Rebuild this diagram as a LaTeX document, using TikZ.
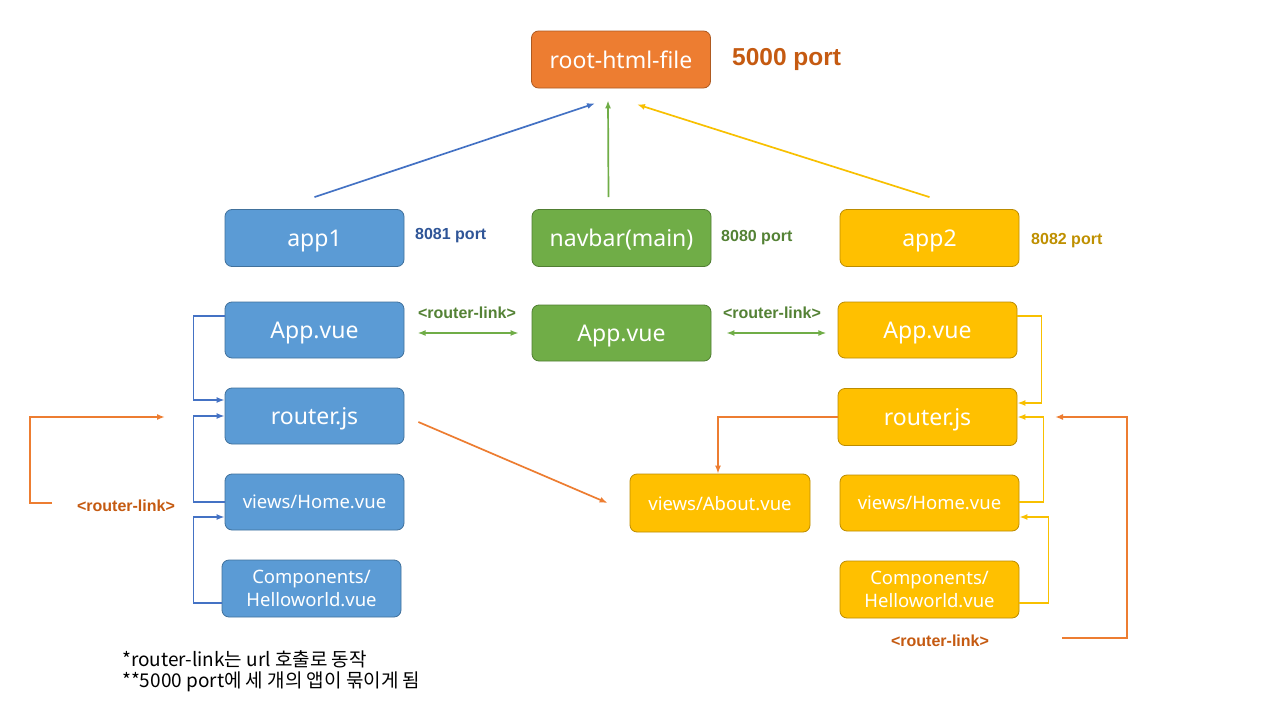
\documentclass[tikz,border=0pt]{standalone}
\usepackage{fontspec}
\setmainfont{Noto Sans}
\newfontfamily\krfont{Noto Sans CJK KR}
\newfontfamily\lblfont{Liberation Sans}
\usetikzlibrary{arrows.meta,calc}
\definecolor{bfill}{HTML}{5B9BD5}\definecolor{bdraw}{HTML}{41719C}
\definecolor{gfill}{HTML}{70AD47}\definecolor{gdraw}{HTML}{507E32}
\definecolor{yfill}{HTML}{FFC000}\definecolor{ydraw}{HTML}{BC8C00}
\definecolor{ofill}{HTML}{ED7D31}\definecolor{odraw}{HTML}{AE5A21}
\definecolor{bline}{HTML}{4472C4}\definecolor{yline}{HTML}{F8C000}
\definecolor{otext}{HTML}{C55A11}\definecolor{btext}{HTML}{2F5597}
\definecolor{gtext}{HTML}{548235}\definecolor{ytext}{HTML}{BF9000}
\begin{document}
\begin{tikzpicture}[x=1pt,y=-1pt,
  box/.style={rounded corners=7pt, draw, line width=0.8pt, minimum width=179pt,
    minimum height=57pt, text=white, inner sep=0pt, align=center, text depth=0pt,
    font=\fontsize{23}{27}\selectfont},
  smallbox/.style={box, font=\fontsize{18.5}{23.5}\selectfont},
  bluebox/.style={fill=bfill, draw=bdraw},
  greenbox/.style={fill=gfill, draw=gdraw},
  yellowbox/.style={fill=yfill, draw=ydraw},
  orangebox/.style={fill=ofill, draw=odraw},
  conn/.style={line width=1.7pt, -{Latex[length=8pt,width=6pt]}},
  portlbl/.style={font=\lblfont\bfseries\fontsize{16}{19}\selectfont, inner sep=0pt},
  rlink/.style={font=\lblfont\bfseries\fontsize{16}{19}\selectfont, inner sep=0pt},
  note/.style={font=\krfont\fontsize{19}{23}\selectfont, inner sep=0pt, anchor=west}
]
\useasboundingbox (0,0) rectangle (1280,720);
\fill[white] (0,0) rectangle (1280,720);

% nodes
\node[box,orangebox] (root) at (621,59.5) {root-html-file};
\node[box,bluebox] (app1) at (314.5,238) {app1};
\node[box,greenbox] (nav) at (621.5,238) {navbar(main)};
\node[box,yellowbox] (app2) at (929.5,238) {app2};

\node[box,bluebox,minimum height=56pt] (bapp) at (314.5,330) {App.vue};
\node[box,greenbox,minimum height=56pt] (gapp) at (621.5,333) {App.vue};
\node[box,yellowbox,minimum height=56pt] (yapp) at (927.5,330) {App.vue};

\node[box,bluebox,minimum height=56pt] (brouter) at (314.5,416) {router.js};
\node[box,yellowbox] (yrouter) at (927.5,417) {router.js};

\node[smallbox,bluebox,minimum height=56pt] (bhome) at (314.5,502) {views/Home.vue};
\node[smallbox,yellowbox,minimum height=56pt] (yhome) at (929.5,503) {views/Home.vue};
\node[smallbox,yellowbox,minimum width=180pt,minimum height=58pt] (about) at (720,503) {views/About.vue};

\node[smallbox,bluebox] (bcomp) at (311.5,588.5) {Components/\\Helloworld.vue};
\node[smallbox,yellowbox] (ycomp) at (929.5,589.5) {Components/\\Helloworld.vue};

% labels
\node[font=\lblfont\bfseries\fontsize{24.5}{28}\selectfont, text=otext, inner sep=0pt, anchor=west] (p5000) at (732,59.5) {5000 port};
\node[portlbl, text=btext, anchor=west] (p8081) at (415,236) {8081 port};
\node[portlbl, text=gtext, anchor=west] (p8080) at (721,238) {8080 port};
\node[portlbl, text=ytext, anchor=west] (p8082) at (1031,241) {8082 port};

\node[rlink, text=gtext] (rl1) at (467,313) {<router-link>};
\node[rlink, text=gtext] (rl2) at (772,313) {<router-link>};
\node[rlink, text=otext] (rl3) at (126,506) {<router-link>};
\node[rlink, text=otext] (rl4) at (940,641) {<router-link>};

\node[note] (n1) at (122,659) {*router-link는 url 호출로 동작};
\node[note] (n2) at (122,682) {**5000 port에 세 개의 앱이 묶이게 됨};

% top arrows
\draw[conn, bline] ($(app1.north)+(0,-12)$) -- ($(root.south)+(-26,15)$);
\draw[conn, gfill] ($(nav.north)+(-13,-12)$) -- ($(root.south)+(-13,12)$);
\draw[conn, yline] ($(app2.north)+(0,-12)$) -- ($(root.south)+(16,16)$);

% green double arrows
\draw[conn, gfill, {Latex[length=8pt,width=6pt]}-{Latex[length=8pt,width=6pt]}]
  ($(gapp.west)+(-114,0)$) -- ($(gapp.west)+(-13,0)$);
\draw[conn, gfill, {Latex[length=8pt,width=6pt]}-{Latex[length=8pt,width=6pt]}]
  ($(gapp.east)+(15,0)$) -- ($(gapp.east)+(115,0)$);

% blue brackets
\draw[conn, bline] (bapp.west |- 0,316) -- ++(-31,0) |- (brouter.west |- 0,400);
\draw[conn, bline] (bhome.west |- 0,502) -- ++(-31,0) |- (brouter.west |- 0,416);
\draw[conn, bline] (bcomp.west |- 0,603) -- ++(-28,0) |- (bhome.west |- 0,517);

% yellow brackets
\draw[conn, yline] (yapp.east |- 0,316) -- ++(24,0) |- (yrouter.east |- 0,403);
\draw[conn, yline] (yhome.east |- 0,502) -- ++(24,0) |- (yrouter.east |- 0,417);
\draw[conn, yline] (ycomp.east |- 0,603) -- ++(29,0) |- (yhome.east |- 0,517);

% orange links
\coordinate (lstart) at (52,503);
\coordinate (lend) at (165,417);
\draw[conn, ofill] (lstart) -- (30,503) -- (30,417) -- (lend);
\draw[conn, ofill] ($(brouter.east)+(14,6)$) -- ($(about.west)+(-22,0)$);
\draw[conn, ofill] (yrouter.west |- 0,417) -| ($(about.north)+(-2,0)$);
\coordinate (rstart) at (1062,638);
\coordinate (rend) at (1055,417);
\draw[conn, ofill] (rstart) -- (1127,638) -- (1127,417) -- (rend);
\end{tikzpicture}
\end{document}
